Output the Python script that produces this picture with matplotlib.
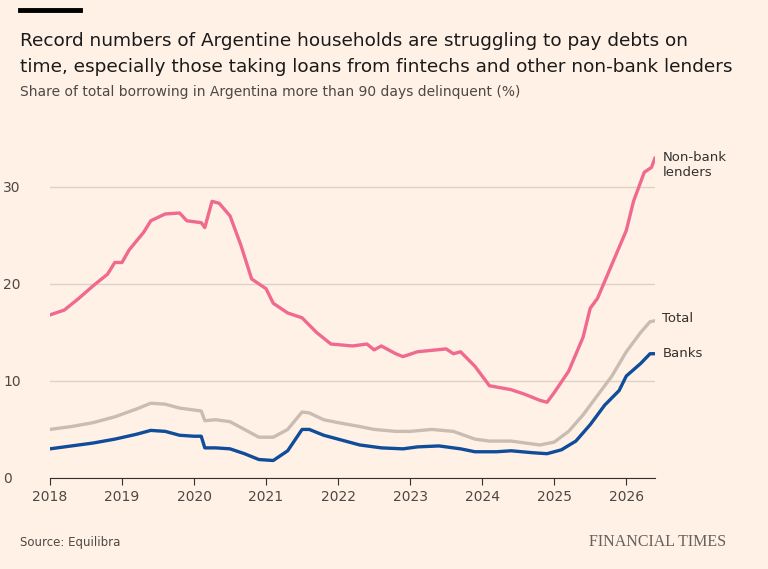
import matplotlib.pyplot as plt
import numpy as np

BG = '#FFF1E5'

nonbank_t = [2018.0, 2018.2, 2018.4, 2018.6, 2018.8, 2018.9, 2019.0, 2019.1, 2019.3, 2019.4, 2019.6, 2019.8,
             2019.9, 2020.1, 2020.15, 2020.25, 2020.35, 2020.5, 2020.65, 2020.8, 2021.0, 2021.1, 2021.3, 2021.5,
             2021.7, 2021.9, 2022.2, 2022.4, 2022.5, 2022.6, 2022.8, 2022.9, 2023.1, 2023.5, 2023.6, 2023.7,
             2023.9, 2024.0, 2024.1, 2024.4, 2024.6, 2024.8, 2024.9, 2025.0, 2025.2, 2025.4, 2025.5, 2025.6,
             2025.8, 2026.0, 2026.1, 2026.25, 2026.35, 2026.4]
nonbank_v = [16.8, 17.3, 18.5, 19.8, 21.0, 22.2, 22.2, 23.5, 25.3, 26.5, 27.2, 27.3,
             26.5, 26.3, 25.8, 28.5, 28.3, 27.0, 24.0, 20.5, 19.5, 18.0, 17.0, 16.5,
             15.0, 13.8, 13.6, 13.8, 13.2, 13.6, 12.8, 12.5, 13.0, 13.3, 12.8, 13.0,
             11.5, 10.5, 9.5, 9.1, 8.6, 8.0, 7.8, 8.8, 11.0, 14.5, 17.5, 18.5,
             22.0, 25.5, 28.5, 31.5, 32.0, 33.0]

total_t = [2018.0, 2018.3, 2018.6, 2018.9, 2019.2, 2019.4, 2019.6, 2019.8, 2020.0, 2020.1, 2020.15, 2020.3,
           2020.5, 2020.7, 2020.9, 2021.1, 2021.3, 2021.5, 2021.6, 2021.8, 2022.0, 2022.3, 2022.5, 2022.8,
           2023.0, 2023.3, 2023.6, 2023.9, 2024.1, 2024.4, 2024.6, 2024.8, 2025.0, 2025.2, 2025.4, 2025.6,
           2025.8, 2026.0, 2026.2, 2026.33, 2026.4]
total_v = [5.0, 5.3, 5.7, 6.3, 7.1, 7.7, 7.6, 7.2, 7.0, 6.9, 5.9, 6.0,
           5.8, 5.0, 4.2, 4.2, 5.0, 6.8, 6.7, 6.0, 5.7, 5.3, 5.0, 4.8,
           4.8, 5.0, 4.8, 4.0, 3.8, 3.8, 3.6, 3.4, 3.7, 4.8, 6.5, 8.5,
           10.5, 13.0, 15.0, 16.1, 16.2]

banks_t = [2018.0, 2018.3, 2018.6, 2018.9, 2019.2, 2019.4, 2019.6, 2019.8, 2020.0, 2020.1, 2020.15, 2020.3,
           2020.5, 2020.7, 2020.9, 2021.1, 2021.3, 2021.5, 2021.6, 2021.8, 2022.0, 2022.3, 2022.6, 2022.9,
           2023.1, 2023.4, 2023.7, 2023.9, 2024.2, 2024.4, 2024.7, 2024.9, 2025.1, 2025.3, 2025.5, 2025.7,
           2025.9, 2026.0, 2026.2, 2026.33, 2026.4]
banks_v = [3.0, 3.3, 3.6, 4.0, 4.5, 4.9, 4.8, 4.4, 4.3, 4.3, 3.1, 3.1,
           3.0, 2.5, 1.9, 1.8, 2.8, 5.0, 5.0, 4.4, 4.0, 3.4, 3.1, 3.0,
           3.2, 3.3, 3.0, 2.7, 2.7, 2.8, 2.6, 2.5, 2.9, 3.8, 5.5, 7.5,
           9.0, 10.5, 11.8, 12.8, 12.8]

years = list(range(2018, 2027))
yticks = [0, 10, 20, 30]

fig = plt.figure(figsize=(7.68, 5.69), dpi=100, facecolor=BG)
ax = fig.add_axes([0.065, 0.16, 0.788, 0.597], facecolor=BG)

for t, v, c in [(total_t, total_v, '#C9BDB3'), (nonbank_t, nonbank_v, '#F0698F'), (banks_t, banks_v, '#0F4C9A')]:
    ax.plot(t, v, color=c, lw=2.4, solid_capstyle='round')

ax.set_xlim(2018, 2026.4)
ax.set_ylim(0, 35)
ax.set_yticks(yticks)
ax.set_xticks(years)
ax.set_xticklabels([str(y) for y in years])
ax.grid(axis='y', color='#DCD2C9', lw=1)
ax.set_axisbelow(True)
for s in ['top', 'right', 'left']:
    ax.spines[s].set_visible(False)
ax.spines['bottom'].set_color('#33302E')
ax.tick_params(axis='y', length=0, labelsize=10, colors='#4D4845', pad=14)
ax.tick_params(axis='x', length=5, color='#33302E', labelsize=10, colors='#4D4845')
for lab in ax.get_yticklabels():
    lab.set_horizontalalignment('left')
    lab.set_x(-0.045)

kw = dict(fontsize=9.5, color='#33302E', va='center', clip_on=False)
ax.text(2026.5, 32.2, 'Non-bank\nlenders', **kw)
ax.text(2026.5, 16.4, 'Total', **kw)
ax.text(2026.5, 12.8, 'Banks', **kw)

fig.add_artist(plt.Line2D([0.026, 0.104], [0.982, 0.982], color='black', lw=3.5))
fig.text(0.026, 0.905, 'Record numbers of Argentine households are struggling to pay debts on\n'
         'time, especially those taking loans from fintechs and other non-bank lenders',
         fontsize=13.3, color='#1a1a1a', va='center', linespacing=1.55)
fig.text(0.026, 0.838, 'Share of total borrowing in Argentina more than 90 days delinquent (%)',
         fontsize=10, color='#4D4845', va='center')
fig.text(0.026, 0.046, 'Source: Equilibra', fontsize=8.5, color='#4D4845', va='center')
fig.text(0.945, 0.048, 'FINANCIAL TIMES', fontsize=11.5, color='#66605C', va='center', ha='right',
         family='Liberation Serif')

fig.savefig('out.png', dpi=100, facecolor=BG)
